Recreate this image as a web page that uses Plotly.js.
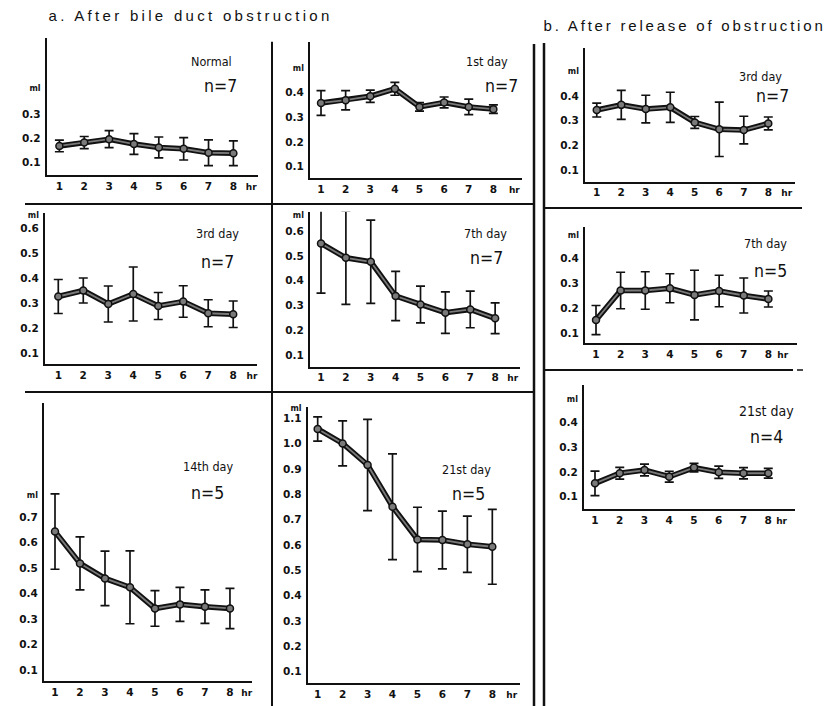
<!DOCTYPE html>
<html><head><meta charset="utf-8">
<script src="https://cdn.plot.ly/plotly-3.0.1.min.js"></script>
<style>
html,body{margin:0;padding:0;background:#fff;}
#chart{width:835px;height:706px;}
.annotation[data-index="0"] .annotation-text{letter-spacing:3.3px;}
.annotation[data-index="1"] .annotation-text{letter-spacing:2.8px;}
</style></head><body><div id="chart"></div>
<script>
// ---- data ----
const hours = [1,2,3,4,5,6,7,8];
const sectionTitles = ['a. After bile duct obstruction','b. After release of obstruction'];
const panelNames = ['Normal','1st day','3rd day','7th day','14th day','21st day','3rd day','7th day','21st day'];
const nValues = [7,7,7,7,5,5,7,5,4];

const normalMean = [0.169,0.183,0.197,0.177,0.163,0.157,0.141,0.139];
const normalSD   = [0.024,0.025,0.035,0.043,0.043,0.046,0.053,0.051];
const day1Mean   = [0.357,0.368,0.384,0.414,0.341,0.359,0.341,0.332];
const day1SD     = [0.050,0.039,0.025,0.026,0.017,0.022,0.031,0.017];
const day3Mean   = [0.327,0.351,0.297,0.337,0.289,0.307,0.260,0.256];
const day3SD     = [0.068,0.050,0.072,0.108,0.054,0.063,0.054,0.053];
const day7Mean   = [0.550,0.492,0.476,0.338,0.304,0.271,0.284,0.248];
const day7SD     = [0.200,0.188,0.168,0.099,0.074,0.084,0.074,0.062];
const day14Mean  = [0.644,0.519,0.460,0.425,0.342,0.358,0.349,0.342];
const day14SD    = [0.148,0.104,0.107,0.143,0.070,0.067,0.066,0.079];
const day21Mean  = [1.058,1.001,0.916,0.751,0.622,0.620,0.603,0.593];
const day21SD    = [0.048,0.089,0.180,0.209,0.127,0.114,0.111,0.148];
const rel3Mean   = [0.343,0.364,0.347,0.354,0.293,0.265,0.262,0.289];
const rel3SD     = [0.028,0.059,0.056,0.061,0.024,0.110,0.056,0.026];
const rel7Mean   = [0.153,0.271,0.271,0.280,0.253,0.269,0.251,0.237];
const rel7SD     = [0.058,0.073,0.075,0.058,0.099,0.063,0.070,0.032];
const rel21Mean  = [0.154,0.195,0.208,0.181,0.218,0.199,0.195,0.195];
const rel21SD    = [0.050,0.024,0.024,0.022,0.017,0.025,0.023,0.020];

const yTicks03 = [0.1,0.2,0.3];
const yTicks04 = [0.1,0.2,0.3,0.4];
const yTicks06 = [0.1,0.2,0.3,0.4,0.5,0.6];
const yTicks07 = [0.1,0.2,0.3,0.4,0.5,0.6,0.7];
const yTicks11 = [0.1,0.2,0.3,0.4,0.5,0.6,0.7,0.8,0.9,1.0,1.1];

const means = [normalMean,day1Mean,day3Mean,day7Mean,day14Mean,day21Mean,rel3Mean,rel7Mean,rel21Mean];
const sds   = [normalSD,day1SD,day3SD,day7SD,day14SD,day21SD,rel3SD,rel7SD,rel21SD];
const yticks= [yTicks03,yTicks04,yTicks06,yTicks06,yTicks07,yTicks11,yTicks04,yTicks04,yTicks04];

// ---- geometry (pixels) ----
const geo = [
 {L:46.7,R:258,B:175,T:38,  xr:[0.49,8.99],yr:[0.049,0.615],ml:0.41, hr:8.72,lab:[211,61], nn:[220,86], fs:12.5},
 {L:310,R:521.7,B:178.3,T:41.7,xr:[0.553,9.15],yr:[0.053,0.604],ml:0.50,hr:8.85,lab:[487,61.5],nn:[501,85.5],fs:12.5},
 {L:45,R:256.7,B:364,T:213,  xr:[0.468,8.94],yr:[0.057,0.661],ml:0.655,hr:8.75,lab:[217,233.5],nn:[217.5,261.5],fs:12.5},
 {L:310,R:520,B:366.7,T:211.7,xr:[0.557,9.0],yr:[0.053,0.678],ml:0.668,hr:8.71,lab:[486,233.5],nn:[486.5,257.5],fs:12.5},
 {L:44,R:251.7,B:681,T:403.3, xr:[0.56,8.87],yr:[0.057,1.148],ml:0.79,hr:8.67,lab:[207.5,466.5],nn:[207,492.5],fs:12.5},
 {L:307.7,R:520,B:683.3,T:406.7,xr:[0.6,9.11],yr:[0.054,1.146],ml:1.143,hr:8.78,lab:[466,469],nn:[468.7,494],fs:12.5},
 {L:585,R:795,B:181.7,T:48.3, xr:[0.52,9.09],yr:[0.053,0.593],ml:0.505,hr:8.75,lab:[760,76],nn:[772,95.5],fs:12.5},
 {L:585,R:796.7,B:343.3,T:226.7,xr:[0.553,9.15],yr:[0.06,0.526],ml:0.496,hr:8.58,lab:[765,243],nn:[770.7,270.5],fs:12.5},
 {L:584,R:795,B:509,T:385,   xr:[0.556,9.08],yr:[0.05,0.553],ml:0.5,hr:8.54,lab:[766.7,411],nn:[766.7,436.7],fs:14}
];

const W=835,H=706;
const px = x => x/W, py = y => 1 - y/H;
const tickFont = {family:'DejaVu Sans, Liberation Sans, sans-serif',size:10.5,weight:'bold',color:'#111'};
const labFamily = 'Liberation Sans Narrow, DejaVu Sans Condensed, Liberation Sans, Arial, sans-serif';

const data=[];
const layout={width:W,height:H,margin:{l:0,r:0,t:0,b:0},paper_bgcolor:'#fff',plot_bgcolor:'rgba(0,0,0,0)',
  showlegend:false,shapes:[],annotations:[]};

layout.annotations.push({xref:'paper',yref:'paper',x:px(190),y:py(16),xanchor:'center',yanchor:'middle',showarrow:false,
  text:sectionTitles[0],font:{family:'Liberation Sans, Arial, sans-serif',size:15,color:'#111'}});
layout.annotations.push({xref:'paper',yref:'paper',x:px(684),y:py(26),xanchor:'center',yanchor:'middle',showarrow:false,
  text:sectionTitles[1],font:{family:'Liberation Sans, Arial, sans-serif',size:15,color:'#111'}});

geo.forEach((p,i)=>{
  const k = i===0?'':String(i+1);
  layout['xaxis'+k]={domain:[px(p.L),px(p.R)],range:p.xr,autorange:false,anchor:'y'+k,showline:true,linewidth:2,linecolor:'#111',
    showgrid:false,zeroline:false,ticks:'',tickmode:'array',
    tickvals:[...hours,p.hr],ticktext:[...hours.map(String),'<span style="font-size:9px">hr</span>'],
    tickfont:tickFont,fixedrange:true};
  layout['yaxis'+k]={domain:[py(p.B),py(p.T)],range:p.yr,autorange:false,anchor:'x'+k,showline:true,linewidth:2,linecolor:'#111',
    showgrid:false,zeroline:false,ticks:'',tickmode:'array',
    tickvals:[...yticks[i],p.ml],ticktext:[...yticks[i].map(v=>v.toFixed(1)),'<span style="font-size:8px">ml</span>'],
    tickfont:tickFont,fixedrange:true,ticklabelstandoff:2};
  data.push({x:hours,y:means[i],xaxis:'x'+k,yaxis:'y'+k,mode:'lines',line:{color:'#111',width:5.5},
    error_y:{type:'data',array:sds[i],symmetric:true,color:'#111',thickness:1.7,width:4.5},hoverinfo:'skip'});
  data.push({x:hours,y:means[i],xaxis:'x'+k,yaxis:'y'+k,mode:'lines+markers',line:{color:'#7a7a7a',width:1.8},
    marker:{size:7,color:'#7a7a7a',line:{color:'#111',width:1.5}},hoverinfo:'skip'});
  layout.annotations.push({xref:'paper',yref:'paper',x:px(p.lab[0]),y:py(p.lab[1]),xanchor:'center',yanchor:'middle',showarrow:false,
    text:panelNames[i],font:{family:labFamily,size:p.fs,color:'#111'}});
  layout.annotations.push({xref:'paper',yref:'paper',x:px(p.nn[0]),y:py(p.nn[1]),xanchor:'center',yanchor:'middle',showarrow:false,
    text:'n='+nValues[i],font:{family:labFamily,size:17.5,color:'#111'}});
});

function hline(y,x0,x1,w){layout.shapes.push({type:'line',xref:'paper',yref:'paper',x0:px(x0),x1:px(x1),y0:py(y),y1:py(y),line:{color:'#111',width:w}});}
function vline(x,y0,y1,w){layout.shapes.push({type:'line',xref:'paper',yref:'paper',x0:px(x),x1:px(x),y0:py(y0),y1:py(y1),line:{color:'#111',width:w}});}
vline(272,41.7,706,2);
vline(534,44,706,2.5);
vline(544,43,706,2.5);
hline(204,25,534,2);
hline(392,25,534,2);
hline(208,544,802,2);
hline(370,544,793,2);
hline(370,797,803,1.5);

Plotly.newPlot('chart',data,layout,{staticPlot:true,displayModeBar:false});
</script></body></html>
